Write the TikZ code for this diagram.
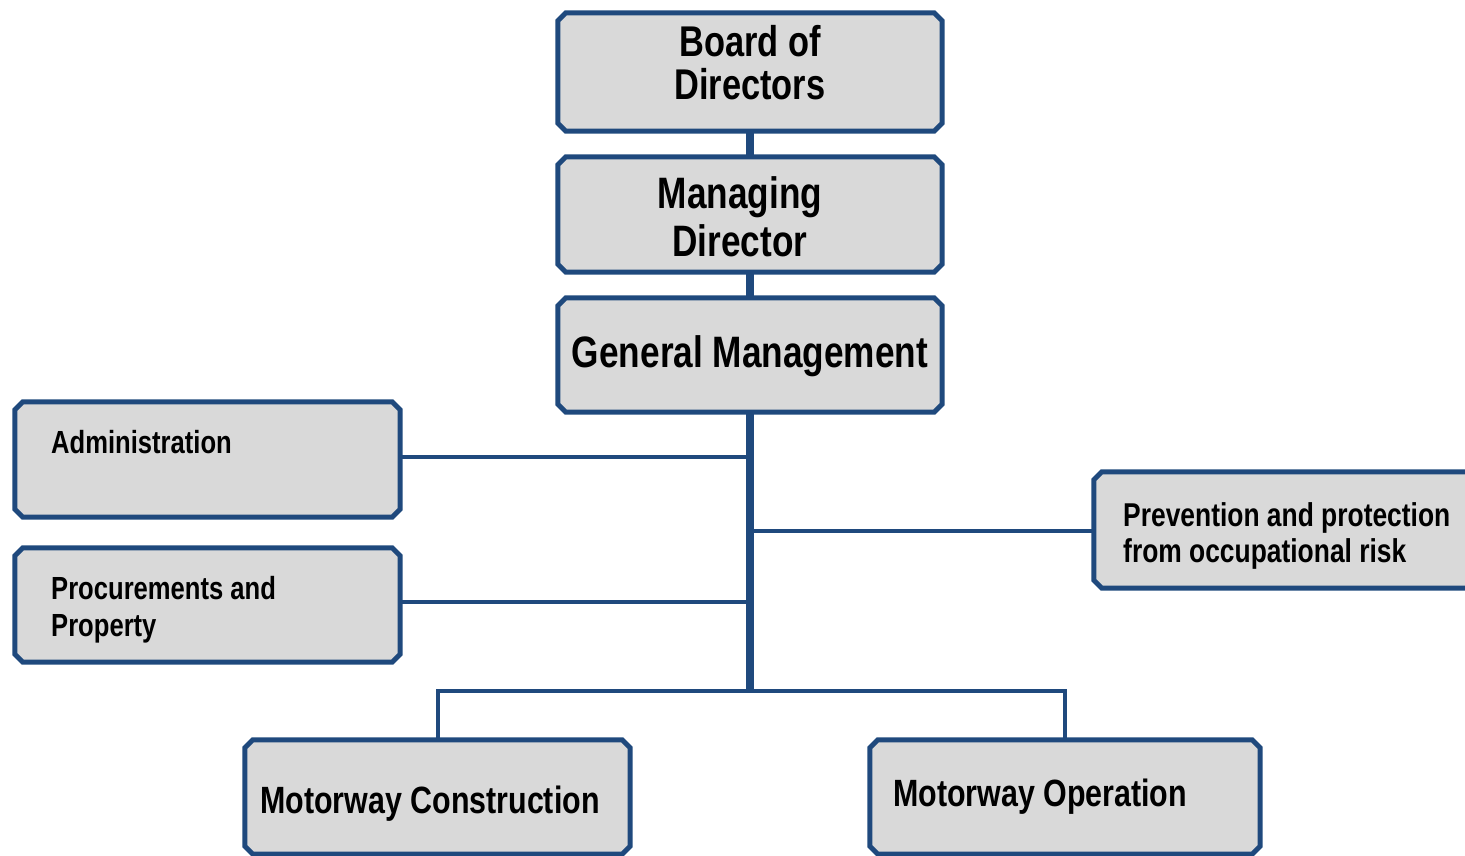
\documentclass[tikz,border=0pt]{standalone}
\usepackage{fontspec}
\setmainfont{Liberation Sans}[FakeStretch=0.8]
\definecolor{bdr}{HTML}{1F497D}
\definecolor{boxfill}{HTML}{D9D9D9}
\tikzset{
  orgbox/.style={rectangle, draw=none, fill=none, inner sep=0pt},
  chamf/.style={draw=bdr, fill=boxfill, line width=5pt, line join=miter},
  lbl/.style={inner sep=0pt, font=\bfseries, text=black},
  thinlink/.style={draw=bdr, line width=4pt},
  thicklink/.style={draw=bdr, line width=8pt},
}
\newcommand{\chbox}[1]{%
  \path[chamf] ([xshift=8pt]#1.north west) -- ([xshift=-8pt]#1.north east)
    -- ([yshift=-8pt]#1.north east) -- ([yshift=8pt]#1.south east)
    -- ([xshift=-8pt]#1.south east) -- ([xshift=8pt]#1.south west)
    -- ([yshift=8pt]#1.south west) -- ([yshift=-8pt]#1.north west) -- cycle;}
\begin{document}
\begin{tikzpicture}[x=1pt,y=-1pt]
\clip (0,0) rectangle (1465,856);
% boxes (border centre lines)
\node[orgbox, minimum width=384pt, minimum height=118pt] (board) at (750,72) {};
\node[orgbox, minimum width=384pt, minimum height=115pt] (md) at (750,214.5) {};
\node[orgbox, minimum width=384pt, minimum height=114pt] (gm) at (750,355) {};
\node[orgbox, minimum width=385pt, minimum height=115pt] (adm) at (207.5,459.5) {};
\node[orgbox, minimum width=385pt, minimum height=114pt] (proc) at (207.5,605) {};
\node[orgbox, minimum width=390pt, minimum height=116pt] (prev) at (1289,530) {};
\node[orgbox, minimum width=385pt, minimum height=114pt] (mc) at (437.5,797) {};
\node[orgbox, minimum width=390pt, minimum height=114pt] (mo) at (1065,797) {};
\chbox{board}\chbox{md}\chbox{gm}\chbox{adm}\chbox{proc}\chbox{prev}\chbox{mc}\chbox{mo}
% texts
\node[lbl, align=center, font=\bfseries\fontsize{43}{43}\selectfont] (boardt) at (750,63) {Board of\\Directors};
\node[lbl, align=center, font=\bfseries\fontsize{44}{48}\selectfont] (mdt) at (740,217) {Managing\\Director};
\node[lbl, anchor=base, font=\bfseries\fontsize{44}{48}\selectfont] (gmt) at (750,367) {General Management};
\node[lbl, anchor=base west, font=\bfseries\fontsize{32}{37}\selectfont] (admt) at (51,453) {Administration};
\node[lbl, anchor=base west, align=left, font=\bfseries\fontsize{32}{37}\selectfont] (proct) at (51,636) {Procurements and\\Property};
\node[lbl, anchor=base west, align=left, font=\bfseries\fontsize{33}{36}\selectfont] (prevt) at (1123,562) {Prevention and protection\\from occupational risk};
\node[lbl, anchor=base west, font=\bfseries\fontsize{38}{42}\selectfont] (mct) at (260,813) {Motorway Construction};
\node[lbl, anchor=base west, font=\bfseries\fontsize{38}{42}\selectfont] (mot) at (893,806) {Motorway Operation};
% connectors
\coordinate (bus) at (750,691);
\draw[thicklink] (board.south) -- (md.north);
\draw[thicklink] (md.south) -- (gm.north);
\draw[thicklink] (gm.south) -- (bus);
\draw[thinlink] (adm.east |- 0,457) -- (746,457);
\draw[thinlink] (proc.east |- 0,602) -- (746,602);
\draw[thinlink] (prev.west |- 0,531) -- (754,531);
\draw[thinlink, line join=miter] (mc.north) |- (bus) -| (mo.north);
\end{tikzpicture}
\end{document}
